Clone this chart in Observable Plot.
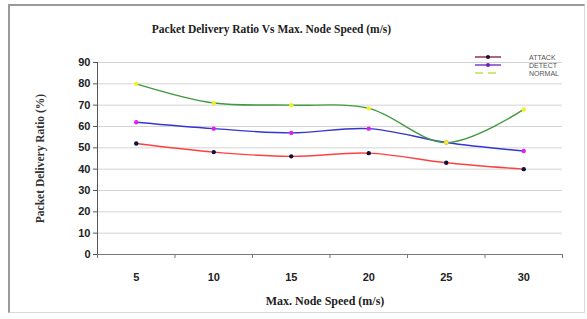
<!DOCTYPE html>
<html>
<head>
<meta charset="utf-8">
<script src="https://cdn.jsdelivr.net/npm/d3@7"></script>
<script src="https://cdn.jsdelivr.net/npm/@observablehq/plot@0.6"></script>
<style>
  html, body { margin: 0; padding: 0; background: #fff; }
  #wrap { position: relative; width: 587px; height: 319px; overflow: hidden; background: #fff; }
  #frame { position: absolute; left: 8px; top: 4px; width: 574px; height: 306px;
    border-left: 2px solid #9a9a9a; border-top: 2px solid #9a9a9a;
    border-right: 1px solid #d8d8d8; border-bottom: 1px solid #d8d8d8; }
  #chart { position: absolute; left: 0; top: 0; }
  #legend { position: absolute; left: 474px; top: 53px; font-family: "Liberation Sans", Arial, sans-serif;
    font-size: 7px; color: #555; }
  #legend .row { height: 8px; display: flex; align-items: center; }
  #legend svg { width: 28px; height: 8px; margin-right: 27px; }
</style>
</head>
<body>
<div id="wrap">
  <div id="frame"></div>
  <div id="chart"></div>
  <div id="legend"></div>
</div>
<script>
const titleText = "Packet Delivery Ratio Vs Max. Node Speed (m/s)";
const xLabel = "Max. Node Speed (m/s)";
const yLabel = "Packet Delivery Ratio (%)";
const speeds = [5, 10, 15, 20, 25, 30];
const seriesNames = ["ATTACK", "DETECT", "NORMAL"];
const attack = [52, 48, 46, 47.5, 43, 40];
const detect = [62, 59, 57, 59, 52.5, 48.5];
const normal = [80, 71, 70, 68.5, 52.5, 68];
const yTicks = [0, 10, 20, 30, 40, 50, 60, 70, 80, 90];
const lineColors = ["#ff4040", "#3535d0", "#3f9a3f"];
const markerColors = ["#10103a", "#e020f0", "#f0f020"];
const legendLineColors = ["#8a1030", "#6a20c0", "#c8e050"];

const values = [attack, detect, normal];
const rows = [];
seriesNames.forEach((name, i) => {
  speeds.forEach((s, j) => rows.push({series: name, speed: s, value: values[i][j]}));
});
const half = (speeds[1] - speeds[0]) / 2;
const boundaries = [speeds[0] - half, ...speeds.map(s => s + half)];

const serif = "'Liberation Serif', 'Times New Roman', serif";
const sans = "'Liberation Sans', Arial, sans-serif";

const chart = Plot.plot({
  width: 587,
  height: 319,
  marginLeft: 97,
  marginRight: 25,
  marginTop: 62,
  marginBottom: 65,
  style: {background: "transparent", fontFamily: sans, overflow: "visible"},
  x: {type: "linear", domain: [boundaries[0], boundaries[boundaries.length - 1]]},
  y: {domain: [0, 90]},
  color: {domain: seriesNames, range: lineColors},
  marks: [
    Plot.gridY(yTicks.filter(t => t > 0), {stroke: "#d4d4d4", strokeOpacity: 1}),
    Plot.axisY({ticks: yTicks, tickSize: 4, tickPadding: 3, label: null,
      fontSize: 11, fontWeight: "bold", fill: "#222", stroke: "#555"}),
    Plot.axisX({ticks: boundaries, tickSize: 4, tickFormat: () => "", label: null, stroke: "#777"}),
    Plot.axisX({ticks: speeds, tickSize: 0, tickPadding: 19, label: null,
      fontSize: 11, fontWeight: "bold", fill: "#222"}),
    Plot.frame({anchor: "left", stroke: "#555"}),
    Plot.frame({anchor: "bottom", stroke: "#777"}),
    Plot.line(rows, {x: "speed", y: "value", z: "series", stroke: "series",
      curve: "catmull-rom", strokeWidth: 1.4}),
    Plot.dot(rows, {x: "speed", y: "value", r: 2.2,
      fill: d => markerColors[seriesNames.indexOf(d.series)], stroke: "none"}),
    Plot.text([titleText], {frameAnchor: "top-left", dx: 174, dy: -38, text: d => d,
      fontFamily: serif, fontWeight: "bold", fontSize: 11.5, fill: "#222", textAnchor: "middle"}),
    Plot.text([xLabel], {frameAnchor: "bottom", dy: 50, text: d => d,
      fontFamily: serif, fontWeight: "bold", fontSize: 12, fill: "#222", dx: -5, textAnchor: "middle"}),
    Plot.text([yLabel], {frameAnchor: "left", dx: -57, rotate: -90, text: d => d, textAnchor: "middle",
      fontFamily: serif, fontWeight: "bold", fontSize: 11.5, fill: "#333"})
  ]
});
document.getElementById("chart").appendChild(chart);

const legend = document.getElementById("legend");
seriesNames.forEach((name, i) => {
  const row = document.createElement("div");
  row.className = "row";
  const dash = i === 2 ? ' stroke-dasharray="8,5"' : "";
  row.innerHTML = `<svg viewBox="0 0 28 8"><line x1="1" x2="27" y1="4" y2="4" stroke="${legendLineColors[i]}" stroke-width="1.3"${dash}/>` +
    (i < 2 ? `<circle cx="14" cy="4" r="2" fill="${i === 0 ? markerColors[0] : legendLineColors[1]}"/>` : "") +
    `</svg><span>${name}</span>`;
  legend.appendChild(row);
});
</script>
</body>
</html>
